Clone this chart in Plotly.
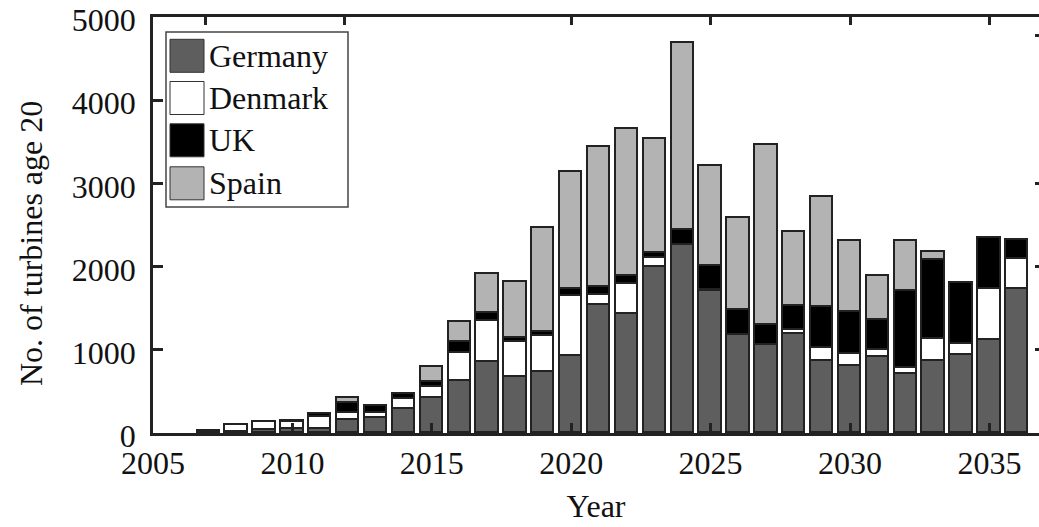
import plotly.graph_objects as go

# Turbines reaching 20 years of age, per year and country
years = list(range(2007, 2037))
germany = [30, 10, 35, 50, 48, 154, 182, 290, 422, 622, 858, 670, 734, 922, 1542, 1434,
           1994, 2258, 1706, 1174, 1058, 1190, 870, 810, 914, 714, 862, 934, 1118, 1730]
denmark = [0, 92, 95, 86, 146, 88, 60, 120, 136, 344, 492, 425, 436, 728, 112, 356,
           108, 0, 16, 0, 0, 44, 152, 144, 88, 68, 268, 132, 612, 364]
uk = [0, 0, 0, 10, 36, 120, 80, 60, 56, 128, 88, 48, 44, 80, 96, 92,
      60, 184, 288, 304, 240, 296, 492, 500, 360, 928, 952, 736, 612, 224]
spain = [0, 0, 0, 0, 0, 60, 0, 0, 175, 235, 468, 667, 1248, 1411, 1688, 1772,
         1368, 2251, 1204, 1112, 2164, 884, 1320, 859, 528, 592, 88, 0, 0, 0]

series = [
    ("Germany", germany, "#5e5e5e"),
    ("Denmark", denmark, "#ffffff"),
    ("UK", uk, "#000000"),
    ("Spain", spain, "#b3b3b3"),
]

x_ticks = [2005, 2010, 2015, 2020, 2025, 2030, 2035]
y_ticks = [0, 1000, 2000, 3000, 4000, 5000]
top_ticks = [2006.88, 2011.87, 2020, 2025, 2030, 2035]
right_ticks = [1000, 2000, 3000, 4775]

FONT = "Liberation Serif"
INK = "#222222"
TEXT = "#111111"
FS = 32
W, H = 1039, 527
ML, MR, MT, MB = 153, 0, 17, 94
PW, PH = W - ML - MR, H - MT - MB
X_RANGE = [2005, 2005 + PW / 27.88]


def px_x(p):
    return (p - ML) / PW


def px_y(p):
    return 1 - (p - MT) / PH


fig = go.Figure()
for name, vals, color in series:
    fig.add_trace(go.Bar(
        x=years, y=vals, name=name, width=0.8,
        marker=dict(color=color, line=dict(color=INK, width=1.6)),
        showlegend=False,
    ))

# empty trace so the top/right tick axes get drawn
fig.add_trace(go.Scatter(x=[], y=[], xaxis="x2", yaxis="y2",
                         showlegend=False, hoverinfo="skip"))

axis_common = dict(showgrid=False, zeroline=False, ticks="inside",
                   tickcolor=INK, tickwidth=2.5, automargin=False)

fig.update_layout(
    width=W, height=H,
    margin=dict(l=ML, r=MR, t=MT, b=MB, pad=0),
    paper_bgcolor="white", plot_bgcolor="white",
    barmode="stack", bargap=0,
    font=dict(family=FONT, size=FS, color=TEXT),
    xaxis=dict(range=X_RANGE, tickvals=x_ticks, tickformat="d", ticklen=10,
               showline=True, linewidth=2.5, linecolor=INK,
               ticklabelstandoff=0, ticklabeloverflow="allow",
               title=dict(text="Year", standoff=15, font=dict(size=FS)),
               **axis_common),
    yaxis=dict(range=[0, 5000], tickvals=y_ticks, tickformat="d", ticklen=10,
               showline=True, linewidth=2.5, linecolor=INK,
               ticklabelstandoff=8, ticklabeloverflow="allow", ticklabelshift=3,
               **axis_common),
    xaxis2=dict(range=X_RANGE, overlaying="x", side="top", tickvals=top_ticks,
                ticklen=8, showticklabels=False, showline=True, linewidth=2.5,
                linecolor=INK, **axis_common),
    yaxis2=dict(range=[0, 5000], overlaying="y", side="right", tickvals=right_ticks,
                ticklen=4, showticklabels=False, showline=False, **axis_common),
)

# y-axis title
annotations = [dict(xref="paper", yref="paper", x=px_x(31), y=px_y(244),
                    xanchor="center", yanchor="middle", textangle=-90,
                    text="No. of turbines age 20", showarrow=False,
                    font=dict(family=FONT, size=FS, color=TEXT))]

# legend box drawn in the upper-left corner
shapes = [dict(type="rect", xref="paper", yref="paper",
               x0=px_x(166), x1=px_x(348), y0=px_y(207), y1=px_y(32),
               fillcolor="white", line=dict(color="#444444", width=1.5), layer="above")]
row_centers = [55.8, 98.0, 140.3, 183.3]
for (name, _, color), cy in zip(series, row_centers):
    shapes.append(dict(type="rect", xref="paper", yref="paper",
                       x0=px_x(170), x1=px_x(204), y0=px_y(cy + 16.5), y1=px_y(cy - 16.5),
                       fillcolor=color, line=dict(color="#333333", width=1), layer="above"))
    annotations.append(dict(xref="paper", yref="paper", x=px_x(207), y=px_y(cy),
                            xanchor="left", yanchor="middle", text=name, showarrow=False,
                            font=dict(family=FONT, size=FS, color=TEXT)))
fig.update_layout(shapes=shapes, annotations=annotations)

fig.write_html("out.html")
